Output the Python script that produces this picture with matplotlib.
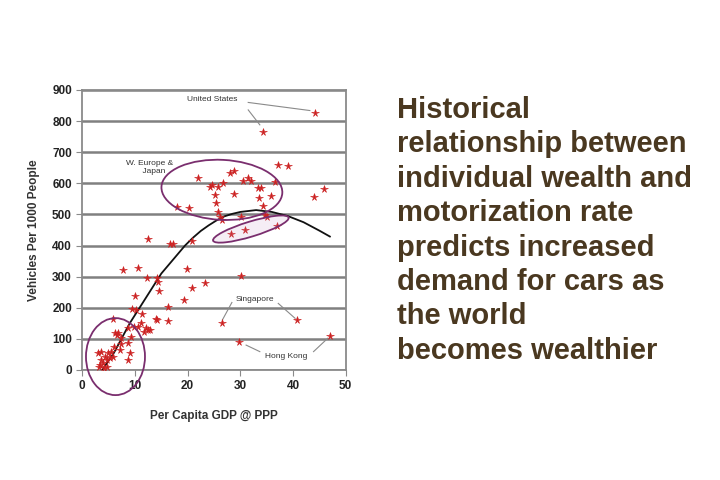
import matplotlib.pyplot as plt
from matplotlib.patches import Ellipse
from matplotlib.transforms import ScaledTranslation

plt.rcParams['font.family'] = ['Liberation Sans', 'DejaVu Sans']

# scatter data
gdp = [44.2, 34.4, 37.2, 39.1, 45.8, 44.0,
       21.9, 17.9, 20.3, 24.6, 24.3, 25.7, 26.7, 25.2, 25.4, 25.8, 26.1, 26.5,
       28.0, 28.8, 28.8, 30.6, 31.5, 32.1, 33.3, 34.0, 33.6, 34.4, 34.7, 35.0,
       35.8, 36.6, 30.1,
       28.2, 30.8, 36.9,
       12.4, 16.6, 17.3, 20.8, 7.7, 10.6, 12.3, 14.1, 14.4, 14.6, 19.8, 20.8,
       23.3, 19.4, 30.1, 10.0, 9.4, 10.2, 11.3, 16.2, 13.9, 14.1, 16.3, 12.4,
       26.5, 40.7, 29.8, 47.0,
       5.8, 6.3, 6.6, 7.3, 7.4, 8.7, 9.8, 10.6, 11.2, 12.1, 11.8, 9.3, 9.0,
       8.7, 7.1, 6.1, 5.5, 4.9, 4.3, 3.6, 3.3, 3.9, 4.6, 3.0, 3.6, 5.2, 5.8,
       3.1, 4.1, 4.7, 12.8, 6.8, 8.7]
vehicles = [825, 766, 659, 656, 581, 555,
            618, 525, 520, 595, 589, 589, 602, 563, 536, 509, 493, 482,
            632, 641, 565, 608, 616, 609, 586, 584, 552, 527, 498, 493,
            559, 605, 493,
            436, 450, 464,
            422, 405, 404, 416, 321, 327, 297, 296, 284, 255, 326, 264,
            279, 225, 302, 238, 196, 193, 179, 204, 163, 162, 156, 129,
            152, 161, 91, 109,
            163, 120, 113, 102, 83, 134, 139, 137, 150, 134, 123, 107, 56,
            32, 64, 75, 59, 54, 43, 32, 16, 22, 32, 54, 59, 38, 43,
            9, 5, 11, 129, 118, 86]

# trend curve
trend_x = [3.8, 6, 9, 12, 15, 18, 19.5, 21, 22.5, 24, 25.5, 27, 28.5, 30,
           33, 36, 39, 42, 45, 47]
trend_y = [0, 55, 150, 230, 310, 370, 400, 425, 447, 465, 481, 494, 502, 508,
           514, 508, 495, 475, 448, 429]

caption = ("Historical\nrelationship between\nindividual wealth and\n"
           "motorization rate\npredicts increased\ndemand for cars as\n"
           "the world\nbecomes wealthier")

fig = plt.figure(figsize=(7.2, 4.8), dpi=100)
ax = fig.add_axes([0.1143, 0.2292, 0.3658, 0.5833])

ax.set_xlim(0, 50)
ax.set_ylim(0, 900)
ax.set_xticks(range(0, 51, 10))
ax.set_yticks(range(0, 901, 100))
ax.grid(axis='y', color='#808080', linewidth=1.8)
ax.set_axisbelow(True)
for s in ax.spines.values():
    s.set_color('#8a8a8a')
    s.set_linewidth(1.3)
ax.tick_params(colors='#8a8a8a', labelcolor='#222222', labelsize=8.5, length=4)
for lab in ax.get_xticklabels() + ax.get_yticklabels():
    lab.set_fontweight('bold')
ax.set_xlabel('Per Capita GDP @ PPP', fontsize=8.5, fontweight='bold', color='#333333', labelpad=13)
ax.set_ylabel('Vehicles Per 1000 People', fontsize=8.5, fontweight='bold', color='#333333', labelpad=9)

ax.plot(trend_x, trend_y, color='#111111', linewidth=1.3, zorder=3)
ax.plot(gdp, vehicles, linestyle='none', marker='*', markersize=5.5,
        color='#cc2222', markeredgewidth=0.4, zorder=4)


def ring(x, y, w, h, angle, face='none'):
    tr = fig.dpi_scale_trans + ScaledTranslation(x, y, ax.transData)
    e = Ellipse((0, 0), w, h, angle=angle, transform=tr, facecolor=face,
                edgecolor='#7a2e6e', linewidth=1.3, clip_on=False, zorder=5)
    ax.add_patch(e)


ring(6.3, 43, 0.59, 0.77, 0)
ring(26.5, 579, 1.21, 0.60, -3)
ring(32.0, 453, 0.79, 0.15, 17, face=(0.75, 0.55, 0.75, 0.15))

gray = '#8a8a8a'
note = dict(fontsize=6, ha='center', va='center', color='#333333')
ax.text(24.6, 869, 'United States', **note)
ax.plot([31.5, 43.2], [860, 834], color=gray, linewidth=0.8)
ax.plot([31.5, 33.7], [836, 788], color=gray, linewidth=0.8)
ax.text(12.7, 652, 'W. Europe &\n    Japan', **note)
ax.text(32.8, 227, 'Singapore', **note)
ax.plot([28.4, 26.6], [217, 161], color=gray, linewidth=0.8)
ax.plot([37.2, 40.4], [214, 166], color=gray, linewidth=0.8)
ax.text(38.8, 43, 'Hong Kong', **note)
ax.plot([33.7, 31.1], [59, 80], color=gray, linewidth=0.8)
ax.plot([43.9, 46.6], [59, 102], color=gray, linewidth=0.8)

fig.text(0.552, 1 - 96 / 480, caption, fontsize=21, fontweight='bold',
         color='#4a3820', ha='left', va='top', linespacing=1.29)

fig.savefig('out.png', dpi=100)
